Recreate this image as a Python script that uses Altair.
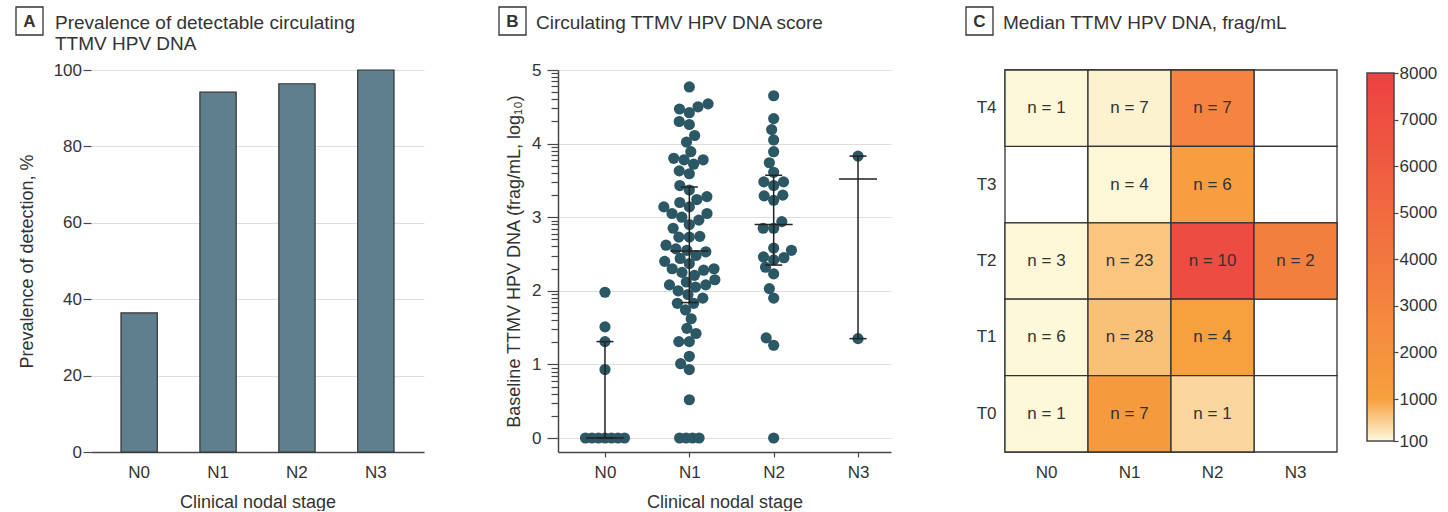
import math
import itertools

import altair as alt
import pandas as pd

FONT = "Liberation Sans, Arial, Helvetica, sans-serif"
INK = "#333333"
AXIS_INK = "#474747"
GRID = "#dedede"
BAR_FILL = "#5e7f8b"
DOT_FILL = "#2c5765"
WHISKER = "#222222"

PLOT_W = 333
PLOT_H = 382

# ---------------------------------------------------------------- data
stages = ["N0", "N1", "N2", "N3"]

# A: share of patients with detectable circulating TTMV HPV DNA
prevalence_pct = [36.4, 94.2, 96.4, 100.0]

# B: baseline TTMV HPV DNA score per patient (log10 frag/mL, 0 = undetectable)
scores_n0 = [0, 0, 0, 0, 0, 0, 0, 0.93, 1.31, 1.51, 1.98]
scores_n1 = [0, 0, 0, 0, 0.52, 0.93, 1.01, 1.11, 1.31, 1.31, 1.42, 1.49, 1.62,
             1.74, 1.83, 1.83, 1.90, 1.95, 2.00, 2.05, 2.08, 2.08, 2.12, 2.15,
             2.21, 2.25, 2.28, 2.30, 2.30, 2.37, 2.40, 2.44, 2.48, 2.53, 2.55,
             2.57, 2.62, 2.73, 2.73, 2.74, 2.85, 2.90, 2.96, 3.00, 3.05, 3.05,
             3.14, 3.14, 3.20, 3.24, 3.28, 3.37, 3.43, 3.59, 3.63, 3.72, 3.78,
             3.78, 3.80, 3.89, 4.02, 4.11, 4.26, 4.30, 4.42, 4.47, 4.50, 4.54,
             4.77]
scores_n2 = [0, 1.26, 1.36, 1.90, 2.03, 2.23, 2.32, 2.42, 2.45, 2.46, 2.55,
             2.58, 2.85, 2.85, 2.94, 3.23, 3.29, 3.30, 3.43, 3.48, 3.48, 3.61,
             3.74, 3.89, 4.05, 4.19, 4.34, 4.65]
scores_n3 = [1.35, 3.83]

# B: median and interquartile range bars
summary_low = [0.0, 1.84, 2.35, 1.35]
summary_mid = [0.0, 2.54, 2.90, 3.52]
summary_high = [1.31, 3.41, 3.57, 3.83]

# C: T stage x N stage cells, patient count and median frag/mL
t_stages = ["T4", "T3", "T2", "T1", "T0"]
cell_t = ["T4", "T4", "T4", "T3", "T3", "T2", "T2", "T2", "T2",
          "T1", "T1", "T1", "T0", "T0", "T0"]
cell_n = ["N0", "N1", "N2", "N1", "N2", "N0", "N1", "N2", "N3",
          "N0", "N1", "N2", "N0", "N1", "N2"]
cell_count = [1, 7, 7, 4, 6, 3, 23, 10, 2, 6, 28, 4, 1, 7, 1]
cell_median = [110, 170, 3100, 120, 1050, 120, 630, 7200, 3400,
               115, 670, 1000, 115, 1450, 450]

color_stops = [100, 1000, 8000]
color_ramp = ["#fdf9dc", "#f7a03e", "#ec4142"]
colorbar_ticks = [100, 1000, 2000, 3000, 4000, 5000, 6000, 7000, 8000]

# ---------------------------------------------------------------- panel B geometry
B_X_DOMAIN = [-0.557, 3.391]
B_Y_DOMAIN = [-0.19, 5.0]
X_PX_PER_UNIT = PLOT_W / (B_X_DOMAIN[1] - B_X_DOMAIN[0])
Y_PX_PER_UNIT = PLOT_H / (B_Y_DOMAIN[1] - B_Y_DOMAIN[0])
DOT_SIZE = 125      # circle area, px^2
DOT_GAP = 10.5      # minimum centre distance inside the swarm, px
TIE_GAP = 6.5       # spacing of the undetectable row, px

# gradient legend placement (relative to the first panel's plot origin)
LEGEND_X = 1276
LEGEND_Y = 3


def swarm_offsets(values):
    """Horizontal pixel offsets of a simple beeswarm, one per value."""
    offsets = [0.0] * len(values)
    zeros = [i for i, v in enumerate(values) if v == 0]
    for k, i in enumerate(zeros):
        offsets[i] = (k - (len(zeros) - 1) / 2) * TIE_GAP
    placed = []
    for i in sorted((i for i, v in enumerate(values) if v != 0),
                    key=lambda j: values[j]):
        y = values[i] * Y_PX_PER_UNIT
        candidates = [0.0]
        for px, py in placed:
            dy = abs(y - py)
            if dy < DOT_GAP:
                dx = math.sqrt(DOT_GAP ** 2 - dy ** 2)
                candidates += [px - dx, px + dx]
        candidates.sort(key=lambda c: (abs(c), c))
        for c in candidates:
            if all((c - px) ** 2 + (y - py) ** 2 >= DOT_GAP ** 2 - 1e-6
                   for px, py in placed):
                offsets[i] = c
                placed.append((c, y))
                break
    return offsets


dot_rows = []
for gi, (stage, vals) in enumerate(zip(stages, [scores_n0, scores_n1, scores_n2, scores_n3])):
    for v, off in zip(vals, swarm_offsets(vals)):
        dot_rows.append({"stage": stage, "score": v, "xpos": gi + off / X_PX_PER_UNIT})
dots_df = pd.DataFrame(dot_rows)

summary_df = pd.DataFrame({
    "stage": stages, "pos": list(range(len(stages))),
    "low": summary_low, "mid": summary_mid, "high": summary_high,
})

log_ticks = sorted({round(k + math.log10(m), 6) for k in range(5) for m in range(1, 10)} | {5.0})


# ---------------------------------------------------------------- helpers
def header(letter, box_left, text_left, lines):
    base = alt.Chart(pd.DataFrame({"letter": [letter]}))
    box = base.mark_rect(fill="white", stroke=INK, strokeWidth=1.3).encode(
        x=alt.value(box_left), x2=alt.value(box_left + 27),
        y=alt.value(-63), y2=alt.value(-35))
    tag = base.mark_text(font=FONT, fontSize=17, fontWeight="bold", color=INK,
                         align="center", baseline="middle").encode(
        x=alt.value(box_left + 13.5), y=alt.value(-48.5), text="letter:N")
    title = base.mark_text(font=FONT, fontSize=19, color=INK, align="left",
                           baseline="alphabetic", lineHeight=21.5).encode(
        x=alt.value(text_left), y=alt.value(-41.5), text=alt.value(lines))
    return [box, tag, title]


# ---------------------------------------------------------------- panel A
prev_df = pd.DataFrame({"stage": stages, "prevalence": prevalence_pct})
bars = alt.Chart(prev_df).mark_bar(fill=BAR_FILL, stroke=INK, strokeWidth=1.2).encode(
    x=alt.X("stage:N", sort=stages,
            scale=alt.Scale(paddingInner=0.54, paddingOuter=0.38),
            axis=alt.Axis(title="Clinical nodal stage", labelAngle=0, ticks=False,
                          tickSize=0, labelPadding=12, domainColor=AXIS_INK,
                          domainWidth=1.5, titleY=55, titleBaseline="alphabetic")),
    y=alt.Y("prevalence:Q", scale=alt.Scale(domain=[0, 100], nice=False),
            axis=alt.Axis(values=[0, 20, 40, 60, 80, 100],
                          title="Prevalence of detection, %", domain=False,
                          tickSize=8, tickColor=AXIS_INK, tickWidth=1.2,
                          labelPadding=1.5, gridColor=GRID, gridWidth=1.2,
                          titleAngle=270, titleX=-59, titleY=PLOT_H / 2,
                          titleBaseline="alphabetic", titleAlign="center")),
)
panel_a = alt.layer(
    bars, *header("A", -75, -36, ["Prevalence of detectable circulating", "TTMV HPV DNA"])
).properties(width=PLOT_W, height=PLOT_H)

# ---------------------------------------------------------------- panel B
bx_scale = alt.Scale(domain=B_X_DOMAIN, nice=False, zero=False)
by_scale = alt.Scale(domain=B_Y_DOMAIN, nice=False, zero=False)
stage_lookup = "[" + ",".join("'%s'" % s for s in stages) + "][datum.value]"
whole = "abs(datum.value - round(datum.value)) < 0.001"
bx_axis = alt.Axis(values=list(range(len(stages))), labelExpr=stage_lookup,
                   title="Clinical nodal stage", grid=False, tickSize=5,
                   tickColor=AXIS_INK, tickWidth=1.2, domainColor=AXIS_INK,
                   domainWidth=1.5, labelPadding=7, labelFlush=False,
                   titleY=55, titleBaseline="alphabetic")
by_axis = alt.Axis(values=log_ticks,
                   labelExpr="%s ? format(datum.value, 'd') : ''" % whole,
                   labelOverlap=False, labelFlush=False,
                   title="Baseline TTMV HPV DNA (frag/mL, log₁₀)",
                   tickSize={"condition": {"test": whole, "value": 11}, "value": 7},
                   gridOpacity={"condition": {"test": whole, "value": 1}, "value": 0},
                   gridColor=GRID, gridWidth=1.2, tickColor=AXIS_INK, tickWidth=1.2,
                   domainColor=AXIS_INK, domainWidth=1.5, labelPadding=6,
                   titleAngle=270, titleX=-39, titleY=PLOT_H / 2,
                   titleBaseline="alphabetic", titleAlign="center")

dots = alt.Chart(dots_df).mark_circle(size=DOT_SIZE, color=DOT_FILL, opacity=1).encode(
    x=alt.X("xpos:Q", scale=bx_scale, axis=bx_axis),
    y=alt.Y("score:Q", scale=by_scale, axis=by_axis),
)
sbase = alt.Chart(summary_df)
whiskers = sbase.mark_rule(color=WHISKER, strokeWidth=1.5).encode(
    x=alt.X("pos:Q", scale=bx_scale, axis=bx_axis),
    y=alt.Y("low:Q", scale=by_scale, axis=by_axis), y2="high:Q")


def bar_tick(field, length):
    return sbase.mark_tick(orient="horizontal", size=length, thickness=1.5,
                           color=WHISKER, opacity=1).encode(
        x=alt.X("pos:Q", scale=bx_scale, axis=bx_axis),
        y=alt.Y(field + ":Q", scale=by_scale, axis=by_axis))


panel_b = alt.layer(
    dots, whiskers, bar_tick("low", 17), bar_tick("high", 17), bar_tick("mid", 38),
    *header("B", -59, -22, "Circulating TTMV HPV DNA score")
).properties(width=PLOT_W, height=PLOT_H)

# ---------------------------------------------------------------- panel C
all_cells = pd.DataFrame(list(itertools.product(t_stages, stages)), columns=["T", "N"])
heat_df = pd.DataFrame({"T": cell_t, "N": cell_n, "n": cell_count, "median": cell_median})
heat_df["label"] = ["n = %d" % c for c in cell_count]

hx = alt.X("N:N", sort=stages, scale=alt.Scale(paddingInner=0, paddingOuter=0),
           axis=alt.Axis(title=None, ticks=False, domain=False, labelAngle=0,
                         labelPadding=12))
hy = alt.Y("T:N", sort=t_stages, scale=alt.Scale(paddingInner=0, paddingOuter=0),
           axis=alt.Axis(title=None, ticks=False, domain=False, labelPadding=9))

frame = alt.Chart(all_cells).mark_rect(fill="white", stroke=INK, strokeWidth=1.3).encode(x=hx, y=hy)
# the colour bar itself: a gradient legend whose labels come from the axis below
tiles = alt.Chart(heat_df).mark_rect(stroke=INK, strokeWidth=1.3).encode(
    x=hx, y=hy,
    color=alt.Color("median:Q",
                    scale=alt.Scale(domain=color_stops, range=color_ramp, interpolate="rgb"),
                    legend=alt.Legend(title=None, orient="none",
                                      legendX=LEGEND_X, legendY=LEGEND_Y,
                                      direction="vertical", gradientLength=368,
                                      gradientThickness=27, gradientStrokeColor=AXIS_INK,
                                      gradientStrokeWidth=1.5, values=[], padding=0)),
)
counts = alt.Chart(heat_df).mark_text(font=FONT, fontSize=17, color=INK).encode(
    x=hx, y=hy, text="label:N")
heat = alt.layer(frame, tiles, counts)

# tick marks and labels of the colour bar, on their own linear scale
colorbar_axis = alt.Chart(pd.DataFrame({"v": colorbar_ticks})).mark_point(opacity=0).encode(
    y=alt.Y("v:Q", scale=alt.Scale(domain=[colorbar_ticks[0], colorbar_ticks[-1]],
                                   range=[371, 3], nice=False, zero=False),
            axis=alt.Axis(orient="right", offset=56, domain=False, grid=False,
                          values=colorbar_ticks, format="d", tickSize=5,
                          tickColor=AXIS_INK, tickWidth=1.2, labelPadding=1,
                          labelOverlap=False, labelFlush=False, title=None)))

panel_c = alt.layer(
    heat, colorbar_axis,
    *header("C", -39, -2, "Median TTMV HPV DNA, frag/mL")
).resolve_scale(y="independent").properties(width=332, height=PLOT_H)

# ---------------------------------------------------------------- assemble
chart = alt.hconcat(panel_a, panel_b, panel_c, spacing=74).properties(
    padding={"left": 15, "top": 6, "right": 4, "bottom": 0},
    background="white",
).configure_view(
    strokeWidth=0,
).configure_axis(
    labelFont=FONT, titleFont=FONT, labelFontSize=17, titleFontSize=18,
    labelColor=INK, titleColor=INK, titleFontWeight="normal",
).configure_legend(
    labelFont=FONT,
)

chart.save("out.html", embed_options={"renderer": "svg", "actions": False})
